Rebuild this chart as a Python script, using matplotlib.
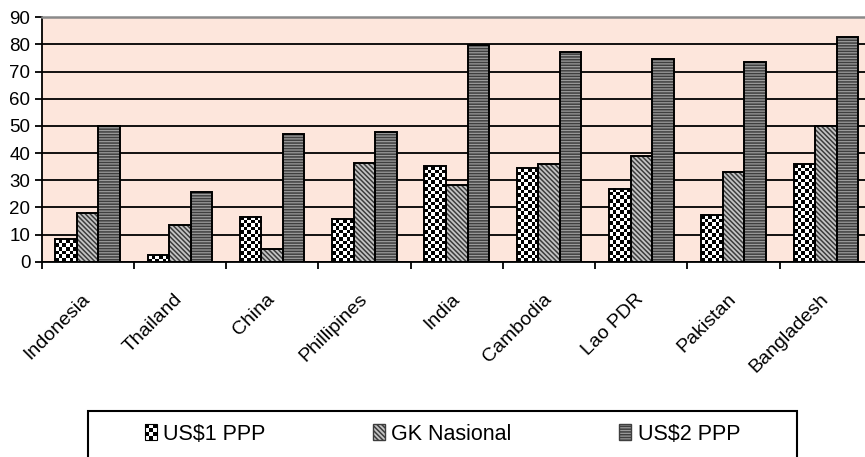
import numpy as np
import matplotlib
matplotlib.use("Agg")
import matplotlib.pyplot as plt
from matplotlib.patches import Patch, Rectangle
from matplotlib.legend_handler import HandlerBase

# Poverty headcount (%) by country under three poverty lines
countries = ["Indonesia", "Thailand", "China", "Phillipines", "India",
             "Cambodia", "Lao PDR", "Pakistan", "Bangladesh"]
us1_ppp = [8.4, 2.3, 16.6, 15.7, 35.2, 34.4, 26.9, 17.3, 35.8]
gk_nasional = [18.0, 13.5, 4.6, 36.4, 28.2, 35.8, 38.8, 32.9, 49.9]
us2_ppp = [49.9, 25.5, 47.1, 47.7, 79.7, 77.4, 74.5, 73.7, 82.6]
series_names = ["US$1 PPP", "GK Nasional", "US$2 PPP"]
y_ticks = [0, 10, 20, 30, 40, 50, 60, 70, 80, 90]

plt.rcParams["font.family"] = ["Liberation Sans", "DejaVu Sans"]
plt.rcParams["hatch.linewidth"] = 1.1

W, H = 865, 457
fig = plt.figure(figsize=(W / 100, H / 100), dpi=100)
left_px, right_px, top_px, bot_px = 41.5, 872.0, 17.3, 261.7
ax = fig.add_axes([left_px / W, 1 - bot_px / H,
                   (right_px - left_px) / W, (bot_px - top_px) / H])
ax.set_facecolor("#fde6dc")

n = len(countries)
x = np.arange(n)
bw = 0.233
ax.set_xlim(-0.5, n - 0.5)
ax.set_ylim(0, 90)

# gridlines
ax.set_axisbelow(True)
ax.yaxis.grid(True, color="black", linewidth=1.3)
ax.xaxis.grid(False)

GK_FACE, GK_HATCH = "#c4c4c4", "#3c3c3c"
US2_FACE, US2_HATCH = "#9c9c9c", "#3f3f3f"

# series 1: checkerboard fill
b1 = ax.bar(x - bw, us1_ppp, bw, color="white", linewidth=0, zorder=2)
# series 2: fine diagonal hatch
ax.bar(x, gk_nasional, bw, color=GK_FACE, edgecolor=GK_HATCH,
       hatch="\\\\\\\\\\\\\\", linewidth=0, zorder=2)
# series 3: horizontal stripes
ax.bar(x + bw, us2_ppp, bw, color=US2_FACE, edgecolor=US2_HATCH,
       hatch="------", linewidth=0, zorder=2)


def checker_fill(axis, rects, cell=3.6):
    for r in rects:
        bb = r.get_window_extent()
        nx = max(1, int(round(bb.width / cell)))
        ny = max(1, int(round(bb.height / cell)))
        tile = np.add.outer(np.arange(ny), np.arange(nx)) % 2
        x0, y0 = r.get_x(), r.get_y()
        axis.imshow(tile, cmap="gray", vmin=0, vmax=1, origin="lower",
                    extent=(x0, x0 + r.get_width(), y0, y0 + r.get_height()),
                    interpolation="nearest", aspect="auto",
                    clip_path=r, zorder=2.5)


checker_fill(ax, b1)

# outlines
for off, vals in zip((-bw, 0, bw), (us1_ppp, gk_nasional, us2_ppp)):
    ax.bar(x + off, vals, bw, fill=False, edgecolor="black",
           linewidth=1.4, zorder=3)

ax.set_xlim(-0.5, n - 0.5)
ax.set_ylim(0, 90)

# spines
ax.spines["top"].set_color("#8a8a8a")
ax.spines["top"].set_linewidth(1.8)
ax.spines["right"].set_visible(False)
ax.spines["left"].set_linewidth(1.3)
ax.spines["bottom"].set_linewidth(1.3)

# ticks
ax.set_yticks(y_ticks)
ax.set_yticklabels([str(v) for v in y_ticks], fontsize=13.5)
ax.tick_params(axis="y", direction="out", length=5, width=1.3, pad=3)
ax.set_xticks(x)
ax.set_xticklabels(countries, rotation=45, ha="right", va="center",
                   rotation_mode="anchor", fontsize=14)
ax.tick_params(axis="x", which="major", length=0, pad=25)
ax.set_xticks(np.arange(-0.5, n, 1.0), minor=True)
ax.tick_params(axis="x", which="minor", direction="out", length=5, width=1.3)


class CheckerHandler(HandlerBase):
    def create_artists(self, legend, orig_handle, xdescent, ydescent,
                       width, height, fontsize, trans):
        arts = []
        nx, ny = 3, 4
        cw, ch = width / nx, height / ny
        for i in range(nx):
            for j in range(ny):
                col = "black" if (i + j) % 2 else "white"
                arts.append(Rectangle((-xdescent + i * cw, -ydescent + j * ch),
                                      cw, ch, facecolor=col, edgecolor="none",
                                      transform=trans))
        arts.append(Rectangle((-xdescent, -ydescent), width, height,
                              fill=False, edgecolor="black", linewidth=0.8,
                              transform=trans))
        return arts


h1 = Patch(facecolor="white", edgecolor="black")
h2 = Patch(facecolor=GK_FACE, edgecolor=GK_HATCH, hatch="\\\\\\\\\\\\\\")
h3 = Patch(facecolor=US2_FACE, edgecolor=US2_HATCH, hatch="------")

fig.legend([h1, h2, h3], series_names, ncol=3, frameon=False,
           loc="center", bbox_to_anchor=(442.5 / W, 1 - 434 / H),
           fontsize=15.5, handlelength=0.55, handleheight=0.75,
           handletextpad=0.3, columnspacing=5.0, borderpad=0,
           handler_map={h1: CheckerHandler()})

# legend frame
fig.add_artist(Rectangle((88 / W, -0.05), (797 - 88) / W, (1 - 411 / H) + 0.05,
                         transform=fig.transFigure, fill=False,
                         edgecolor="black", linewidth=1.5))

fig.savefig("out.png", dpi=100)
